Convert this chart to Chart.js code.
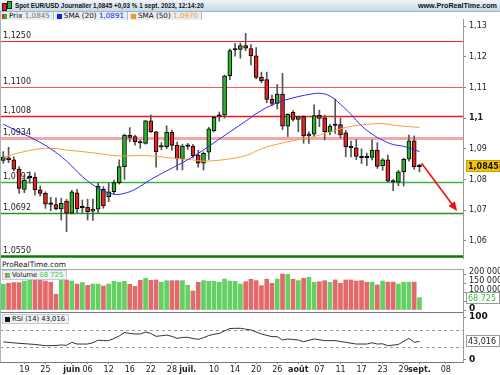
<!DOCTYPE html>
<html>
<head>
<meta charset="utf-8">
<script src="https://cdn.jsdelivr.net/npm/chart.js@4.4.0/dist/chart.umd.min.js"></script>
<style>
body{margin:0;width:500px;height:375px;overflow:hidden;background:#fff;font-family:'DejaVu Sans',sans-serif;position:relative;color:#111}
#title{position:absolute;left:0;top:0;width:500px;height:11px;background:linear-gradient(#eef5f9,#c6dae7);border-bottom:1px solid #9db3c1}
#title .t{position:absolute;left:15px;top:0px;font-family:'Liberation Sans',sans-serif;font-size:7.6px;font-weight:bold;line-height:11px;white-space:nowrap;transform:scaleX(0.83);transform-origin:left center}
#title .w{position:absolute;right:3px;top:0px;font-family:'Liberation Sans',sans-serif;font-size:7.2px;font-weight:bold;line-height:11px}
.ico{position:absolute;top:2px;width:3px;height:6px;border:1px solid #222}
#legend{position:absolute;left:0;top:12px;height:8px;white-space:nowrap;font-size:7.2px;line-height:8px}
#legend span.b{display:inline-block;height:8px;padding:0 3px 0 2px;margin-right:1px;background:#e8eef2;border-right:1px solid #b0bcc5;vertical-align:top}
.sq{display:inline-block;width:5px;height:5px;margin-right:2px;vertical-align:-0.5px}
canvas{position:absolute;left:0}
.lbl{position:absolute;left:2px;font-size:6.8px;line-height:8px;white-space:nowrap;background:#eef2f5;border:1px solid #c3ccd3;padding:0 3px 0 2px}
.hl{position:absolute;left:0;width:463px;height:1px;background:#9aa}
#lborder{position:absolute;left:0;top:12px;width:1px;height:350px;background:#a8b4bc}
.ax{position:absolute;left:469px;font-size:8px;line-height:10px;white-space:nowrap;color:#222}
.ax.big{font-size:9px;font-weight:bold;color:#111}
</style>
</head>
<body>
<div id="title">
  <span class="ico" style="left:2px;background:#e62222;top:3px"></span>
  <span class="ico" style="left:7px;background:#27b427;top:1px"></span>
  <span class="t">Spot EUR/USD Journalier 1,0845 +0,03 % 1 sept. 2023, 12:14:20</span>
  <span class="w">www.ProRealTime.com</span>
</div>
<div id="legend">
  <span class="b"><span class="sq" style="background:linear-gradient(90deg,#e62222 50%,#27b427 50%)"></span>Prix <span style="color:#777">1,0845</span></span><span class="b"><span class="sq" style="background:#1a1aee"></span>SMA (20) <span style="color:#1a1aee">1,0891</span></span><span class="b"><span class="sq" style="background:#f39a1e"></span>SMA (50) <span style="color:#f39a1e">1,0970</span></span>
</div>
<canvas id="main" width="500" height="240" style="top:19px"></canvas>
<div style="position:absolute;left:2px;top:260px;font-size:7.4px;line-height:9px">ProRealTime.com</div>
<div class="hl" style="top:269px"></div>
<canvas id="vol" width="500" height="44" style="top:269px"></canvas>
<div class="hl" style="top:312px;background:#778"></div>
<canvas id="rsi" width="500" height="62" style="top:313px"></canvas>
<div class="lbl" style="top:270px"><span class="sq" style="background:linear-gradient(90deg,#e36a6a 50%,#62d062 50%)"></span>Volume <span style="color:#4c4">68 725</span></div>
<div class="lbl" style="top:314px"><span class="sq" style="background:#111"></span>RSI (14) 43,016</div>
<div id="lborder"></div>
<script>
// daily candles, index 0 = 15 May 2023 ... 79 = 1 Sept 2023
const opens  = [1.0862,1.0871,1.0864,1.0834,1.0768,1.0806,1.0807,1.0766,1.0755,1.0721,
                1.0718,1.0704,1.0730,1.0690,1.0757,1.0708,1.0709,1.0697,1.0703,1.0768,
                1.0744,1.0760,1.0790,1.0842,1.0944,1.0940,1.0922,1.0918,1.0991,1.0955,
                1.0906,1.0907,1.0954,1.0911,1.0867,1.0908,1.0909,1.0880,1.0853,1.0889,
                1.0959,1.1006,1.1010,1.1138,1.1222,1.1224,1.1236,1.1227,1.1203,1.1133,
                1.1126,1.1061,1.1048,1.1078,1.0974,1.1019,1.0996,1.1005,1.0942,1.0948,
                1.1009,1.1001,1.0956,1.0978,1.0979,1.0952,1.0905,1.0903,1.0873,1.0873,
                1.0872,1.0896,1.0845,1.0864,1.0795,1.0791,1.0825,1.0866,1.0926,1.0842];
const highs  = [1.0891,1.0905,1.0874,1.0842,1.0815,1.0825,1.0822,1.0779,1.0760,1.0742,
                1.0740,1.0739,1.0735,1.0765,1.0768,1.0733,1.0736,1.0736,1.0788,1.0777,
                1.0788,1.0798,1.0864,1.0948,1.0969,1.0945,1.0929,1.0993,1.1010,1.0957,
                1.0920,1.0975,1.0961,1.0922,1.0915,1.0918,1.0915,1.0895,1.0890,1.0970,
                1.1006,1.1020,1.1140,1.1225,1.1244,1.1245,1.1276,1.1240,1.1230,1.1150,
                1.1150,1.1075,1.1110,1.1146,1.1015,1.1025,1.1005,1.1008,1.0955,1.1043,
                1.1026,1.1010,1.0980,1.1062,1.1000,1.0960,1.0925,1.0930,1.0900,1.0886,
                1.0929,1.0920,1.0868,1.0880,1.0800,1.0830,1.0870,1.0945,1.0942,1.0850];
const lows   = [1.0853,1.0855,1.0829,1.0755,1.0757,1.0788,1.0750,1.0746,1.0706,1.0698,
                1.0701,1.0668,1.0630,1.0688,1.0690,1.0692,1.0668,1.0667,1.0692,1.0706,
                1.0728,1.0753,1.0785,1.0800,1.0923,1.0912,1.0902,1.0915,1.0953,1.0840,
                1.0897,1.0900,1.0896,1.0831,1.0831,1.0898,1.0870,1.0840,1.0831,1.0865,
                1.0955,1.0990,1.1000,1.1125,1.1202,1.1195,1.1220,1.1173,1.1128,1.1115,
                1.1050,1.1040,1.1030,1.0962,1.0940,1.0990,1.0955,1.0918,1.0918,1.0940,
                1.0972,1.0929,1.0945,1.0950,1.0935,1.0874,1.0874,1.0865,1.0852,1.0845,
                1.0864,1.0836,1.0830,1.0792,1.0764,1.0780,1.0779,1.0860,1.0833,1.0825];
const closes = [1.0873,1.0864,1.0834,1.0771,1.0798,1.0808,1.0766,1.0755,1.0720,1.0719,
                1.0704,1.0722,1.0690,1.0760,1.0705,1.0710,1.0695,1.0704,1.0779,1.0714,
                1.0760,1.0790,1.0842,1.0944,1.0937,1.0923,1.0919,1.0991,1.0956,1.0891,
                1.0908,1.0954,1.0911,1.0867,1.0909,1.0910,1.0878,1.0853,1.0885,1.0965,
                1.1003,1.1008,1.1138,1.1220,1.1224,1.1236,1.1228,1.1203,1.1133,1.1122,
                1.1061,1.1048,1.1078,1.0974,1.1012,1.0996,1.1005,1.0942,1.0948,1.1008,
                1.0999,1.0956,1.0974,1.0976,1.0945,1.0906,1.0903,1.0875,1.0871,1.0871,
                1.0896,1.0843,1.0864,1.0795,1.0792,1.0825,1.0866,1.0926,1.0842,1.0845];
const volumes = [144000,149000,153000,153000,162000,166000,168000,168000,162000,155000,
                 88000,166000,168000,162000,145000,153000,138000,145000,144000,134000,
                 145000,160000,155000,160000,144000,132000,166000,177000,166000,168000,
                 155000,164000,164000,164000,164000,138000,106000,155000,164000,160000,
                 160000,155000,173000,162000,160000,145000,158000,172000,164000,136000,
                 172000,149000,173000,201000,199000,172000,164000,177000,183000,155000,
                 158000,164000,155000,168000,149000,168000,168000,162000,164000,155000,
                 155000,140000,162000,156000,156000,145000,155000,156000,156000,68725];

// moving averages and RSI (candle index, value)
const sma20K   = [0,3,6,9,12,15,18,21,23,25,28,31,34,37,40,43,46,49,52,55,58,60,62,64,66,68,70,72,74,76,79];
const sma20Val = [1.0980,1.0955,1.0930,1.0900,1.0860,1.0810,1.0772,1.0752,1.0755,1.0768,1.0800,1.0828,1.0855,1.0885,1.0920,
                  1.0955,1.0990,1.1025,1.1050,1.1066,1.1077,1.1081,1.1072,1.1045,1.1012,1.0975,1.0948,1.0928,1.0914,1.0908,1.0891];
const sma50K   = [0,3,8,12,17,22,27,32,36,38,42,46,49,52,56,58,60,63,66,70,72,75,79];
const sma50Val = [1.0872,1.0887,1.0902,1.0896,1.0887,1.0877,1.0878,1.0870,1.0864,1.0860,1.0865,1.0878,1.0900,1.0915,1.0930,
                  1.0936,1.0945,1.0960,1.0973,1.0981,1.0982,1.0975,1.0970];
const rsiK   = [0,3,6,8,10,11,12,13,14,16,17,18,19,20,21,22,23,24,25,26,27,28,29,30,31,32,33,34,35,36,37,38,39,40,41,42,43,44,45,46,
                47,49,51,52,53,54,56,57,59,61,63,65,67,69,70,71,72,73,75,77,78,79];
const rsiVal = [42,38.6,36,33,33.5,34.7,34,41,37,37,40,46,45,45,50,56,64,62,60.6,60.6,65,62,55,56.5,58,55,50.4,52.5,52.8,50,48,52,57,60,62,68,73.5,74,74,72,
                70,60.6,54.3,54.3,46.5,48.8,46.5,42.5,48.8,45,45,41,37,37,40,37,37.5,33,36,50.4,41,43.016];

// support / resistance levels and projection arrow
const levelValues = [1.1250,1.1100,1.1008,1.0934,1.0792,1.0692,1.0550];
const levelText   = ['1,1250','1,1100','1,1008','1,0934','1,0792','1,0692','1,0550'];
const arrowK   = [79.4, 85.9];
const arrowVal = [1.0853, 1.0703];

const priceTicks = [1.06,1.07,1.08,1.09,1.10,1.11,1.12,1.13];
const volTicks = [0,50000,100000,150000,200000];
const rsiTicks = [0,100];
const rsiLevels = [70,30];
const tickIdx  = [4,8,13,16,20,24,28,32,35,40,44,48,52,56,60,64,68,72,76,79,84];
const tickText = ['19','25','juin','06','12','16','22','28','juil.','10','14','20','26','août','07','11','17','23','29','sept.','08'];

const levelColors = ['#f02828','#f25858','#ee1c1c','#f4a6ab','#3cb43c','#279327','#0b780b'];
const levelWidths = [1.2,1.2,1.4,3,1.3,1.3,2.6];

const xMin = -0.63, xMax = 87.26;
const comma = (v, d) => v.toFixed(d).replace('.', ',');
const spaced = v => String(v).replace(/\B(?=(\d{3})+(?!\d))/g, ' ');

Chart.defaults.font.family = "'DejaVu Sans', sans-serif";
Chart.defaults.font.size = 8;
Chart.defaults.color = '#222';
Chart.defaults.animation = false;
Chart.defaults.responsive = false;
Chart.defaults.plugins.legend.display = false;
Chart.defaults.plugins.tooltip.enabled = false;

function fixAxis(s) { s.width = 37; s.paddingTop = 0; s.paddingBottom = 0; }
const xHidden = {type: 'linear', min: xMin, max: xMax, offset: false, display: false};

function valueBox(ctx, chart, y, text, bg, fg, bold, border) {
  const a = chart.chartArea;
  ctx.save();
  ctx.fillStyle = bg;
  ctx.fillRect(a.right + 3, y - 6, 34, 12);
  if (border) { ctx.strokeStyle = border; ctx.lineWidth = 1; ctx.strokeRect(a.right + 3.5, y - 5.5, 33, 11); }
  ctx.fillStyle = fg;
  ctx.font = (bold ? 'bold ' : '') + "8px 'DejaVu Sans'";
  ctx.textBaseline = 'middle';
  ctx.fillText(text, a.right + 5, y + 0.5);
  ctx.restore();
}

// right-hand labels of the small panels, placed from the panel's own y scale
function sideLabels(chart, values, fmt, offset, big) {
  const canvas = chart.canvas;
  const y = chart.scales.y;
  values.forEach(v => {
    const d = document.createElement('div');
    d.className = big(v) ? 'ax big' : 'ax';
    d.textContent = fmt(v);
    d.style.top = Math.round(canvas.offsetTop + y.getPixelForValue(v) + offset - 5) + 'px';
    document.body.appendChild(d);
  });
}

const isDoji = i => Math.abs(closes[i] - opens[i]) < 0.0004;
const bodyColors = opens.map((o, i) => isDoji(i) ? '#111' : (closes[i] > o ? '#27b427' : '#e62222'));
const volColors = opens.map((o, i) => closes[i] >= o ? '#62d062' : '#e36a6a');

const mainPlugin = {
  id: 'mainExtras',
  beforeDatasetsDraw(chart) {
    const {ctx, chartArea: a, scales: {y}} = chart;
    ctx.save();
    levelValues.forEach((v, i) => {
      const py = Math.round(y.getPixelForValue(v)) + 0.5;
      ctx.strokeStyle = levelColors[i];
      ctx.lineWidth = levelWidths[i];
      ctx.beginPath(); ctx.moveTo(a.left, py); ctx.lineTo(a.right, py); ctx.stroke();
      ctx.fillStyle = '#222';
      ctx.font = "8px 'DejaVu Sans'";
      ctx.textBaseline = 'bottom';
      ctx.fillText(levelText[i], 3, py - 1.5);
    });
    ctx.restore();
  },
  afterDatasetsDraw(chart) {
    const {ctx} = chart;
    const pts = chart.getDatasetMeta(3).data;
    const p0 = pts[0], p1 = pts[1];
    const ang = Math.atan2(p1.y - p0.y, p1.x - p0.x);
    ctx.save();
    ctx.fillStyle = '#ee1111';
    ctx.translate(p1.x, p1.y); ctx.rotate(ang);
    ctx.beginPath(); ctx.moveTo(2, 0); ctx.lineTo(-7, -4); ctx.lineTo(-7, 4); ctx.closePath(); ctx.fill();
    ctx.restore();
  },
  afterDraw(chart) {
    const y = chart.scales.y;
    valueBox(chart.ctx, chart, Math.round(y.getPixelForValue(closes[79])), comma(closes[79], 4), '#f5c400', '#111', true, '#caa000');
  }
};

new Chart(document.getElementById('main'), {
  type: 'bar',
  data: {
    datasets: [
      {type: 'line', data: sma20K.map((k, i) => ({x: k, y: sma20Val[i]})), borderColor: '#2b2bf0', borderWidth: 1, pointRadius: 0, tension: 0.4, order: 0},
      {type: 'line', data: sma50K.map((k, i) => ({x: k, y: sma50Val[i]})), borderColor: '#f7a035', borderWidth: 1, pointRadius: 0, tension: 0.4, order: 0},
      {data: opens.map((o, i) => ({x: i, y: [o, closes[i]]})), backgroundColor: bodyColors, borderColor: '#000', borderWidth: 1,
       borderSkipped: false, barThickness: 4, minBarLength: 1.5, grouped: false, order: 1},
      {type: 'line', data: arrowK.map((k, i) => ({x: k, y: arrowVal[i]})), borderColor: '#ee1111', borderWidth: 1.6, pointRadius: 0, order: 0},
      {data: lows.map((l, i) => ({x: i, y: [l, highs[i]]})), backgroundColor: '#555', barThickness: 1, grouped: false, order: 2}
    ]
  },
  options: {
    layout: {padding: 0},
    scales: {
      x: xHidden,
      y: {position: 'right', min: 1.0541, max: 1.1323, afterFit: fixAxis,
          afterBuildTicks: s => { s.ticks = priceTicks.map(v => ({value: v})); },
          grid: {drawOnChartArea: false, tickLength: 3, color: '#888'}, border: {color: '#999'},
          ticks: {padding: 3, autoSkip: false, callback: v => Math.abs(v - 1.1) < 1e-9 ? '1,1' : comma(v, 2),
                  font: c => ({size: 8, weight: c.tick && Math.abs(c.tick.value - 1.1) < 1e-9 ? 'bold' : 'normal'})}}
    }
  },
  plugins: [mainPlugin]
});

const volChart = new Chart(document.getElementById('vol'), {
  type: 'bar',
  data: {datasets: [{data: volumes.map((v, i) => ({x: i, y: v})), backgroundColor: volColors, barThickness: 4, grouped: false}]},
  options: {
    layout: {padding: 0},
    scales: {
      x: xHidden,
      y: {position: 'right', min: -16761, max: 229067, afterFit: fixAxis,
          afterBuildTicks: s => { s.ticks = volTicks.map(v => ({value: v})); },
          grid: {drawOnChartArea: false, tickLength: 3, color: '#888'}, border: {color: '#999'},
          ticks: {display: false}}
    }
  },
  plugins: [{id: 'volBox', afterDraw(chart) {
    const y = chart.scales.y;
    valueBox(chart.ctx, chart, Math.round(y.getPixelForValue(volumes[79])), spaced(volumes[79]), '#fff', '#3cbc3c', false, '#999');
  }}]
});

const rsiChart = new Chart(document.getElementById('rsi'), {
  type: 'line',
  data: {datasets: [{data: rsiK.map((k, i) => ({x: k, y: rsiVal[i]})), borderColor: '#333', borderWidth: 1, pointRadius: 0, tension: 0}]},
  options: {
    layout: {padding: 0},
    scales: {
      x: {type: 'linear', min: xMin, max: xMax, offset: false,
          afterBuildTicks: s => { s.ticks = tickIdx.map(v => ({value: v})); },
          afterFit: s => { s.height = 13; },
          grid: {drawOnChartArea: false, tickLength: 2, color: '#888'}, border: {color: '#777'},
          ticks: {padding: 1, maxRotation: 0, autoSkip: false, callback: (v, i) => tickText[i],
                  font: c => ({size: 8, weight: /^\d/.test(tickText[c.index] || '0') ? 'normal' : 'bold'})}},
      y: {position: 'right', min: -5.3, max: 110, afterFit: fixAxis,
          afterBuildTicks: s => { s.ticks = rsiTicks.map(v => ({value: v})); },
          grid: {drawOnChartArea: false, tickLength: 3, color: '#888'}, border: {color: '#999'},
          ticks: {display: false}}
    }
  },
  plugins: [{id: 'rsiExtras',
    beforeDatasetsDraw(chart) {
      const {ctx, chartArea: a, scales: {y}} = chart;
      ctx.save();
      ctx.strokeStyle = '#999'; ctx.lineWidth = 1; ctx.setLineDash([3, 3]);
      rsiLevels.forEach(v => {
        const py = Math.round(y.getPixelForValue(v)) + 0.5;
        ctx.beginPath(); ctx.moveTo(a.left, py); ctx.lineTo(a.right, py); ctx.stroke();
      });
      ctx.restore();
    },
    afterDraw(chart) {
      const y = chart.scales.y;
      valueBox(chart.ctx, chart, Math.round(y.getPixelForValue(rsiVal[rsiVal.length - 1])), comma(rsiVal[rsiVal.length - 1], 3), '#fff', '#222', false, '#999');
    }
  }]
});

// 50 000 sits under the last-volume box, as in the original
sideLabels(volChart, volTicks.filter(v => v !== 50000), spaced, -2.5, v => v === 0);
sideLabels(rsiChart, rsiTicks, v => String(v), -1, v => true);
</script>
</body>
</html>
